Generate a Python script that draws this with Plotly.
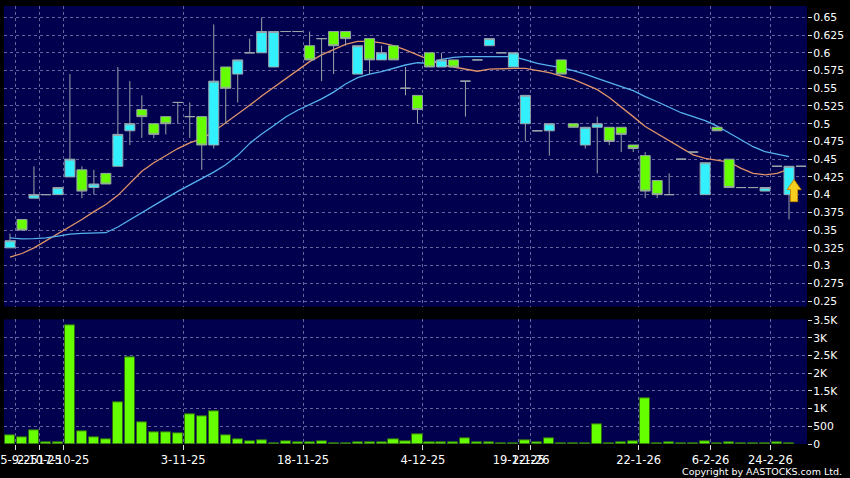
import plotly.graph_objects as go

# ---------------- data ----------------
idx = list(range(67))

open_ = [0.325, 0.365, 0.395, 0.40, 0.40, 0.425, 0.435, 0.41, 0.43, 0.44,
         0.49, 0.52, 0.50, 0.51, 0.53, 0.51, 0.51, 0.47, 0.58, 0.57,
         0.60, 0.60, 0.58, 0.63, 0.63, 0.61, 0.62, 0.63, 0.63, 0.57,
         0.62, 0.59, 0.61, 0.55, 0.54, 0.60, 0.58, 0.59, 0.56, 0.59,
         0.61, 0.60, 0.58, 0.50, 0.49, 0.49, 0.59, 0.50, 0.47, 0.495,
         0.495, 0.495, 0.47, 0.455, 0.42, 0.40, 0.45, 0.46, 0.40, 0.495,
         0.45, 0.41, 0.41, 0.405, 0.44, 0.40, 0.44]
high = [0.345, 0.365, 0.44, 0.40, 0.41, 0.57, 0.44, 0.435, 0.43, 0.58,
        0.56, 0.54, 0.50, 0.51, 0.53, 0.53, 0.51, 0.64, 0.58, 0.59,
        0.62, 0.65, 0.63, 0.63, 0.63, 0.63, 0.62, 0.63, 0.63, 0.61,
        0.62, 0.61, 0.61, 0.58, 0.54, 0.60, 0.60, 0.59, 0.56, 0.59,
        0.62, 0.60, 0.60, 0.54, 0.49, 0.50, 0.59, 0.50, 0.495, 0.51,
        0.495, 0.495, 0.47, 0.46, 0.42, 0.43, 0.45, 0.46, 0.445, 0.495,
        0.45, 0.41, 0.41, 0.41, 0.44, 0.44, 0.44]
low = [0.325, 0.35, 0.395, 0.40, 0.40, 0.425, 0.395, 0.40, 0.415, 0.44,
       0.47, 0.48, 0.48, 0.485, 0.50, 0.48, 0.435, 0.465, 0.50, 0.53,
       0.60, 0.60, 0.58, 0.63, 0.63, 0.59, 0.56, 0.57, 0.61, 0.57,
       0.57, 0.59, 0.59, 0.54, 0.50, 0.58, 0.58, 0.58, 0.51, 0.59,
       0.61, 0.60, 0.58, 0.475, 0.49, 0.455, 0.57, 0.495, 0.465, 0.43,
       0.47, 0.46, 0.46, 0.395, 0.395, 0.40, 0.45, 0.46, 0.40, 0.49,
       0.41, 0.41, 0.41, 0.405, 0.44, 0.365, 0.44]
close = [0.335, 0.35, 0.40, 0.40, 0.41, 0.45, 0.405, 0.415, 0.415, 0.485,
         0.50, 0.51, 0.485, 0.50, 0.53, 0.51, 0.47, 0.56, 0.55, 0.59,
         0.60, 0.63, 0.63, 0.63, 0.63, 0.59, 0.62, 0.61, 0.62, 0.61,
         0.59, 0.60, 0.59, 0.55, 0.52, 0.58, 0.59, 0.58, 0.56, 0.59,
         0.62, 0.60, 0.60, 0.54, 0.49, 0.50, 0.57, 0.495, 0.495, 0.50,
         0.475, 0.485, 0.465, 0.405, 0.40, 0.40, 0.45, 0.46, 0.445, 0.49,
         0.41, 0.41, 0.41, 0.41, 0.44, 0.44, 0.44]
volume = [245, 198, 387, 38, 57, 3357, 368, 198, 141, 1179,
          2461, 622, 330, 330, 292, 839, 773, 915, 236, 132,
          75, 104, 9, 66, 57, 57, 75, 28, 9, 47,
          47, 47, 123, 66, 283, 38, 38, 38, 151, 38,
          38, 9, 9, 104, 47, 151, 9, 9, 9, 557,
          9, 47, 66, 1282, 28, 38, 19, 9, 66, 9,
          38, 9, 19, 9, 57, 28, None]
ma10 = [0.312, 0.317, 0.325, 0.335, 0.344, 0.354, 0.365, 0.376, 0.386, 0.399,
        0.416, 0.433, 0.445, 0.455, 0.465, 0.473, 0.479, 0.489, 0.501, 0.514,
        0.526, 0.539, 0.551, 0.564, 0.576, 0.5875, 0.597, 0.605, 0.612, 0.616,
        0.616, 0.614, 0.610, 0.604, 0.597, 0.589, 0.583, 0.580, 0.577, 0.574,
        0.577, 0.578, 0.578, 0.578, 0.575, 0.572, 0.567, 0.5625, 0.5555, 0.548,
        0.537, 0.524, 0.510, 0.496, 0.486, 0.477, 0.466, 0.456, 0.451, 0.449,
        0.446, 0.437, 0.430, 0.428, 0.430, 0.436, None]
ma20 = [0.339, 0.3375, 0.338, 0.339, 0.3416, 0.3444, 0.3453, 0.3453, 0.3463, 0.3543,
        0.3646, 0.3752, 0.3848, 0.3947, 0.4046, 0.4137, 0.422, 0.4318, 0.4422, 0.4554,
        0.4723, 0.4855, 0.4972, 0.5095, 0.519, 0.527, 0.535, 0.5445, 0.556, 0.565,
        0.570, 0.5734, 0.578, 0.5828, 0.586, 0.585, 0.5908, 0.5936, 0.5945, 0.5945,
        0.595, 0.5955, 0.5945, 0.590, 0.585, 0.582, 0.579, 0.5748, 0.570, 0.564,
        0.5578, 0.5522, 0.5466, 0.5381, 0.531, 0.523, 0.5155, 0.510, 0.5043, 0.4967,
        0.4873, 0.478, 0.4676, 0.4605, 0.4568, 0.4535, None]

date_tick_idx = [0, 2, 4, 14, 24, 34, 42, 43, 52, 58, 63]
date_tick_text = ["15-9-25", "2-10-25", "17-10-25", "3-11-25", "18-11-25", "4-12-25",
                  "19-12-25", "2-1-26", "22-1-26", "6-2-26", "24-2-26"]
price_ticks = [0.25, 0.275, 0.3, 0.325, 0.35, 0.375, 0.4, 0.425, 0.45, 0.475,
               0.5, 0.525, 0.55, 0.575, 0.6, 0.625, 0.65]
price_tick_text = ["0.25", "0.275", "0.3", "0.325", "0.35", "0.375", "0.4", "0.425", "0.45",
                   "0.475", "0.5", "0.525", "0.55", "0.575", "0.6", "0.625", "0.65"]
vol_ticks = [0, 500, 1000, 1500, 2000, 2500, 3000, 3500]
vol_tick_text = ["0", "500", "1K", "1.5K", "2K", "2.5K", "3K", "3.5K"]
arrow_idx = 65

# ---------------- styles ----------------
BG = "#00004e"
GRID = "rgba(135,135,185,0.75)"
FONT = "DejaVu Sans"
tickpos = [i + 0.45 for i in date_tick_idx]

fig = go.Figure()

# moving averages (base price subplot, drawn below candles)
fig.add_trace(go.Scatter(x=idx, y=ma10, mode="lines", line=dict(color="#e0946a", width=1.3),
                         xaxis="x", yaxis="y", hoverinfo="skip", connectgaps=False))
fig.add_trace(go.Scatter(x=idx, y=ma20, mode="lines", line=dict(color="#55b2ee", width=1.3),
                         xaxis="x", yaxis="y", hoverinfo="skip", connectgaps=False))

# candles on an overlaying axis so they sit above the MA lines
fig.add_trace(go.Candlestick(
    x=idx, open=open_, high=high, low=low, close=close,
    increasing=dict(fillcolor="#33f0ff", line=dict(color="#9aa3a8", width=1)),
    decreasing=dict(fillcolor="#66ff00", line=dict(color="#9aa3a8", width=1)),
    whiskerwidth=0, xaxis="x", yaxis="y3", hoverinfo="skip"))

# volume
fig.add_trace(go.Bar(x=idx, y=volume, width=0.84,
                     marker=dict(color="#66ff00", line=dict(color="#2f6a12", width=1)),
                     xaxis="x2", yaxis="y2", hoverinfo="skip"))

axis_common = dict(showline=False, zeroline=False, showgrid=True, gridcolor=GRID,
                   griddash="3px,3px", gridwidth=1, automargin=False)

fig.update_layout(
    template="none",
    width=850, height=478,
    margin=dict(l=4, r=43, t=6, b=34, autoexpand=False),
    paper_bgcolor="black", plot_bgcolor=BG,
    showlegend=False,
    boxgap=0.167, boxgroupgap=0, bargap=0,
    font=dict(family=FONT, color="white", size=11),
    xaxis=dict(domain=[0, 1], anchor="y", range=[-0.5, 66.5], tickvals=tickpos,
               showticklabels=False, ticks="", rangeslider=dict(visible=False), **axis_common),
    xaxis2=dict(domain=[0, 1], anchor="y2", range=[-0.5, 66.5], tickvals=tickpos,
                ticktext=date_tick_text, ticks="outside", ticklen=5, tickcolor="#dddddd",
                tickangle=0, ticklabeloverflow="allow",
                tickfont=dict(family=FONT, size=11.5, color="white"), **axis_common),
    yaxis=dict(domain=[0.3135, 1], anchor="x", side="right", range=[0.242, 0.666],
               tickvals=price_ticks, ticktext=price_tick_text, ticks="outside", ticklen=4,
               ticklabelstandoff=-1, ticklabeloverflow="allow",
               tickcolor="#dddddd", tickfont=dict(family=FONT, size=10.8, color="white"),
               **axis_common),
    yaxis3=dict(overlaying="y", anchor="x", side="right", range=[0.242, 0.666],
                showticklabels=False, showgrid=False, zeroline=False, ticks="",
                automargin=False),
    yaxis2=dict(domain=[0, 0.2847], anchor="x2", side="right", range=[0, 3520],
                tickvals=vol_ticks, ticktext=vol_tick_text, ticks="outside", ticklen=4,
                ticklabelstandoff=-1, ticklabeloverflow="allow",
                tickcolor="#dddddd", tickfont=dict(family=FONT, size=10.8, color="white"),
                **axis_common),
)

# yellow up-arrow marker beside the last candle
fig.add_shape(type="path", xref="x", yref="y3",
              xsizemode="pixel", ysizemode="pixel",
              xanchor=idx[arrow_idx] + 0.42, yanchor=open_[arrow_idx],
              path="M 0 15 L 7 5 L 3.5 5 L 3.5 -7 L -3.5 -7 L -3.5 5 L -7 5 Z",
              fillcolor="#f7cf1e", line=dict(color="#c98a00", width=1), layer="above")

fig.add_annotation(text="Copyright by AASTOCKS.com Ltd.", xref="paper", yref="paper",
                   x=1.046, y=-0.063, xanchor="right", yanchor="middle", showarrow=False,
                   font=dict(family=FONT, size=9.5, color="white"))

fig.write_html("out.html", config={"displayModeBar": False},
               post_script="document.body.style.margin='0';document.body.style.background='black';")
